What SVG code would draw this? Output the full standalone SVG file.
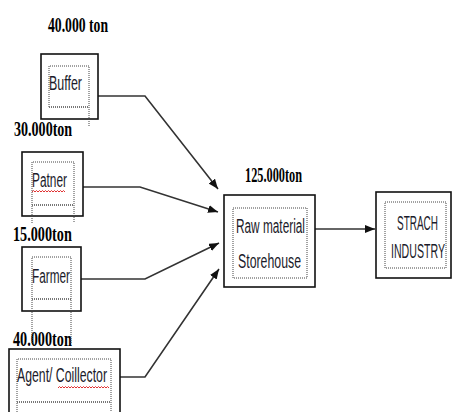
<svg xmlns="http://www.w3.org/2000/svg" width="453" height="412" viewBox="0 0 453 412">
<defs>
<marker id="ah" viewBox="0 0 10 8" refX="10" refY="4" markerWidth="10" markerHeight="8" markerUnits="userSpaceOnUse" orient="auto">
<path d="M0,0 L10,4 L0,8 Z" fill="#111"/>
</marker>
</defs>
<style>
.box{fill:#fff;stroke:#111;stroke-width:1.6}
.dot{fill:none;stroke:#444;stroke-width:1;stroke-dasharray:1,1}
.und{fill:none;stroke:#777;stroke-width:2;stroke-dasharray:1,1}
.sq{fill:none;stroke:#e03030;stroke-width:1}
.lab{font-family:"Liberation Serif",serif;font-weight:bold;font-size:22px;fill:#000}
.t{font-family:"Liberation Sans",sans-serif;font-size:21px;fill:#1b1b2a}
.c{fill:none;stroke:#333;stroke-width:1.6}
</style>
<rect width="453" height="412" fill="#fff"/>
<g id="labels">
<text class="lab" transform="translate(48,32) scale(0.6,1)" textLength="100" lengthAdjust="spacingAndGlyphs">40.000 ton</text>
<text class="lab" transform="translate(14,136) scale(0.6,1)" textLength="97" lengthAdjust="spacingAndGlyphs">30.000ton</text>
<text class="lab" transform="translate(13,241) scale(0.6,1)" textLength="98" lengthAdjust="spacingAndGlyphs">15.000ton</text>
<text class="lab" transform="translate(13,346) scale(0.6,1)" textLength="98" lengthAdjust="spacingAndGlyphs">40.000ton</text>
<text class="lab" transform="translate(245,182) scale(0.6,1)" textLength="95" lengthAdjust="spacingAndGlyphs">125.000ton</text>
</g>
<g id="connectors">
<polyline class="c" points="98,96 145,96 218,189" marker-end="url(#ah)"/>
<polyline class="c" points="83,187 140,187 218,212" marker-end="url(#ah)"/>
<polyline class="c" points="81,279 145,279 219,243" marker-end="url(#ah)"/>
<polyline class="c" points="120,377 145,377 219,269" marker-end="url(#ah)"/>
<line class="c" x1="315" y1="229" x2="375" y2="229" marker-end="url(#ah)"/>
</g>
<g id="buffer">
<rect class="box" x="41" y="54" width="57" height="65"/>
<path class="dot" d="M49,107 V66 H89 V126"/>
<line class="und" x1="49" y1="107" x2="89" y2="107"/>
<text class="t" transform="translate(49,90) scale(0.5,1)" textLength="66" lengthAdjust="spacingAndGlyphs">Buffer</text>
</g>
<g id="patner">
<rect class="box" x="22" y="152" width="61" height="64"/>
<path class="dot" d="M32,223 V162 H74 V223"/>
<line class="und" x1="32" y1="205" x2="74" y2="205"/>
<text class="t" transform="translate(32,187) scale(0.5,1)" textLength="70" lengthAdjust="spacingAndGlyphs">Patner</text>
<path class="sq" d="M32,192 l1.5,-1.5 l1.5,1.5 l1.5,-1.5 l1.5,1.5 l1.5,-1.5 l1.5,1.5 l1.5,-1.5 l1.5,1.5 l1.5,-1.5 l1.5,1.5 l1.5,-1.5 l1.5,1.5 l1.5,-1.5 l1.5,1.5 l1.5,-1.5 l1.5,1.5 l1.5,-1.5 l1.5,1.5 l1.5,-1.5 l1.5,1.5 l1.5,-1.5 l1.5,1.5"/>
</g>
<g id="farmer">
<rect class="box" x="22" y="247" width="59" height="64"/>
<path class="dot" d="M32,343 V257 H71 V343"/>
<line class="und" x1="32" y1="299" x2="71" y2="299"/>
<text class="t" transform="translate(32,283) scale(0.5,1)" textLength="76" lengthAdjust="spacingAndGlyphs">Farmer</text>
</g>
<g id="agent">
<rect class="box" x="9" y="349" width="111" height="70"/>
<path class="dot" d="M17,414 V359 H111 V414"/>
<line class="und" x1="17" y1="402" x2="111" y2="402"/>
<text class="t" transform="translate(17,382) scale(0.5,1)" textLength="180" lengthAdjust="spacingAndGlyphs">Agent/ Coillector</text>
<path class="sq" d="M58,388 l1.5,-1.5 l1.5,1.5 l1.5,-1.5 l1.5,1.5 l1.5,-1.5 l1.5,1.5 l1.5,-1.5 l1.5,1.5 l1.5,-1.5 l1.5,1.5 l1.5,-1.5 l1.5,1.5 l1.5,-1.5 l1.5,1.5 l1.5,-1.5 l1.5,1.5 l1.5,-1.5 l1.5,1.5 l1.5,-1.5 l1.5,1.5 l1.5,-1.5 l1.5,1.5 l1.5,-1.5 l1.5,1.5 l1.5,-1.5 l1.5,1.5 l1.5,-1.5 l1.5,1.5 l1.5,-1.5 l1.5,1.5 l1.5,-1.5 l1.5,1.5 l1.5,-1.5 l1.5,1.5"/>
</g>
<g id="storehouse">
<rect class="box" x="224" y="195" width="91" height="92"/>
<rect class="dot" x="233" y="208" width="74" height="70"/>
<text class="t" transform="translate(236,233) scale(0.5,1)" textLength="138" lengthAdjust="spacingAndGlyphs">Raw material</text>
<text class="t" transform="translate(238,268) scale(0.5,1)" textLength="126" lengthAdjust="spacingAndGlyphs">Storehouse</text>
</g>
<g id="industry">
<rect class="box" x="376" y="192" width="75" height="86"/>
<rect class="dot" x="385" y="202" width="61" height="66"/>
<text class="t" transform="translate(397,230) scale(0.5,1)" textLength="82" lengthAdjust="spacingAndGlyphs">STRACH</text>
<text class="t" transform="translate(391,258) scale(0.5,1)" textLength="108" lengthAdjust="spacingAndGlyphs">INDUSTRY</text>
</g>
</svg>
